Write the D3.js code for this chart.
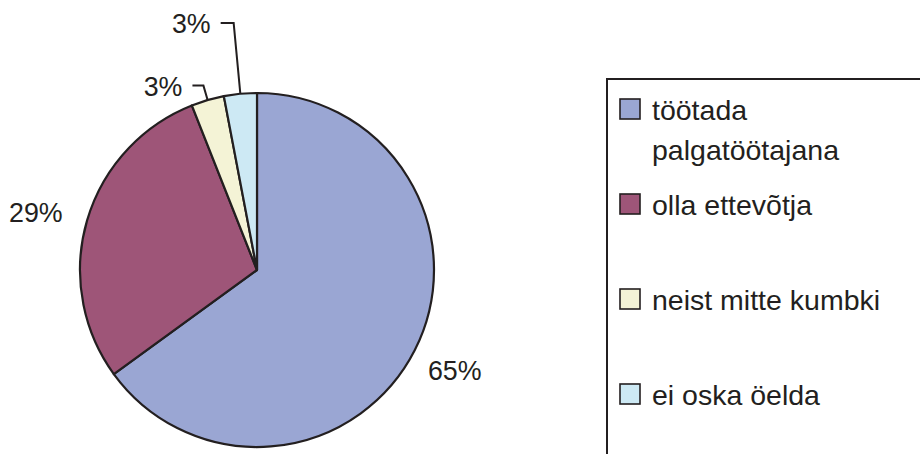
<!DOCTYPE html>
<html>
<head>
<meta charset="utf-8">
<script src="https://cdn.jsdelivr.net/npm/d3@7"></script>
<style>
  html, body { margin: 0; padding: 0; background: #ffffff; }
  svg { display: block; }
  text { font-family: "Liberation Sans", Arial, Helvetica, sans-serif; fill: #231f20; }
</style>
</head>
<body>
<svg id="chart" width="920" height="454"></svg>
<script>
// Survey answers: share of respondents (%)
const categories = ["töötada palgatöötajana", "olla ettevõtja", "neist mitte kumbki", "ei oska öelda"];
const legendLines = [["töötada", "palgatöötajana"], ["olla ettevõtja"], ["neist mitte kumbki"], ["ei oska öelda"]];
const values = [65, 29, 3, 3];
const valueLabels = ["65%", "29%", "3%", "3%"];
const colors = ["#9aa6d3", "#9e5578", "#f4f3d6", "#cde9f4"];

const svg = d3.select("#chart");
const ink = "#231f20";

// Pie geometry
const cx = 257, cy = 270, radius = 177;
const g = svg.append("g").attr("transform", `translate(${cx},${cy})`);

const pie = d3.pie().sort(null).value(d => d)(values);
const arc = d3.arc().innerRadius(0).outerRadius(radius);

g.selectAll("path.slice")
  .data(pie)
  .join("path")
  .attr("class", "slice")
  .attr("d", arc)
  .attr("fill", (d, i) => colors[i])
  .attr("stroke", ink)
  .attr("stroke-width", 2.2)
  .attr("stroke-linejoin", "round");

const mid = d => (d.startAngle + d.endAngle) / 2;
const polar = (a, r) => [Math.sin(a) * r, -Math.cos(a) * r];

// Label placement: large slices get a label out on a ring;
// the two thin slices get an elbow leader line
const labelFont = 26.8;
const ringLabels = [
  { i: 0, r: 222, dx: 0, dy: 0 },
  { i: 1, r: 222, dx: -8, dy: 5 }
];
ringLabels.forEach(o => {
  const [x, y] = polar(mid(pie[o.i]), o.r);
  g.append("text")
    .attr("x", x + o.dx)
    .attr("y", y + o.dy)
    .attr("text-anchor", "middle")
    .attr("dominant-baseline", "central")
    .attr("font-size", labelFont)
    .text(valueLabels[o.i]);
});

const leaderLabels = [
  { i: 2, elbow: 192, run: 11 },
  { i: 3, elbow: 248, run: 13 }
];
leaderLabels.forEach(o => {
  const a = mid(pie[o.i]);
  const p0 = polar(a, radius);
  const p1 = polar(a, o.elbow);
  const p2 = [p1[0] - o.run, p1[1]];
  g.append("path")
    .attr("d", d3.line()([p0, p1, p2]))
    .attr("fill", "none")
    .attr("stroke", ink)
    .attr("stroke-width", 2);
  g.append("text")
    .attr("x", p2[0] - 10)
    .attr("y", p2[1] + 1)
    .attr("text-anchor", "end")
    .attr("dominant-baseline", "central")
    .attr("font-size", labelFont)
    .text(valueLabels[o.i]);
});

// Legend
const legend = svg.append("g");
legend.append("rect")
  .attr("x", 607).attr("y", 79)
  .attr("width", 400).attr("height", 400)
  .attr("fill", "#ffffff")
  .attr("stroke", ink)
  .attr("stroke-width", 2);

const rowY = d3.scalePoint().domain(d3.range(categories.length)).range([99, 384]);
const rows = legend.selectAll("g.item")
  .data(categories)
  .join("g")
  .attr("class", "item")
  .attr("transform", (d, i) => `translate(620,${rowY(i)})`);

rows.append("rect")
  .attr("width", 20).attr("height", 20)
  .attr("fill", (d, i) => colors[i])
  .attr("stroke", ink)
  .attr("stroke-width", 1.6);

rows.each(function (d, i) {
  const t = d3.select(this).append("text")
    .attr("x", 32)
    .attr("y", 20.5)
    .attr("font-size", 28.5);
  legendLines[i].forEach((line, k) => {
    t.append("tspan").attr("x", 32).attr("dy", k === 0 ? 0 : 40).text(line);
  });
});
</script>
</body>
</html>
